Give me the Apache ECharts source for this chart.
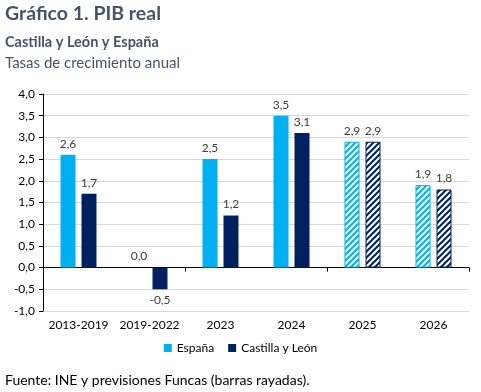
<!DOCTYPE html>
<html><head><meta charset="utf-8">
<script src="https://cdn.jsdelivr.net/npm/echarts@6/dist/echarts.min.js"></script>
<style>html,body{margin:0;padding:0;background:#fff}#c{width:481px;height:392px}</style>
</head><body><div id="c"></div>
<script>
const categories = ['2013-2019','2019-2022','2023','2024','2025','2026'];
const espana = [2.6, 0.0, 2.5, 3.5, 2.9, 1.9];
const castilla = [1.7, -0.5, 1.2, 3.1, 2.9, 1.8];
const forecast = [false, false, false, false, true, true];
const seriesNames = ['España', 'Castilla y León'];
const yTicks = {min: -1, max: 4, interval: 0.5};

const C1 = '#00B0F0', C2 = '#002060';
const FONT = 'Lato, "Noto Sans", sans-serif';

function hatch(color){
  const s = 6, cv = document.createElement('canvas');
  cv.width = s; cv.height = s;
  const g = cv.getContext('2d');
  g.fillStyle = '#fff'; g.fillRect(0,0,s,s);
  g.strokeStyle = color; g.lineWidth = 2;
  g.beginPath();
  g.moveTo(-1, s+1); g.lineTo(s+1, -1);
  g.moveTo(-1, 1); g.lineTo(1, -1);
  g.moveTo(s-1, s+1); g.lineTo(s+1, s-1);
  g.stroke();
  return {image: cv, repeat: 'repeat'};
}
const fmt = v => v.toFixed(1).replace('.', ',');

function mk(vals, color){
  return vals.map((v,i)=>({
    value: v,
    itemStyle: forecast[i] ? {color: hatch(color), borderColor: color, borderWidth: 1} : {color: color},
    label: {position: v < 0 ? 'bottom' : 'top'}
  }));
}

const chart = echarts.init(document.getElementById('c'));
chart.setOption({
  animation: false,
  textStyle: {fontFamily: FONT},
  graphic: [
    {type:'text', left:5, top:4, style:{text:'Gráfico 1. PIB real', font:'bold 19.5px '+FONT, fill:'#44546A'}},
    {type:'text', left:5, top:35, style:{text:'Castilla y León y España', font:'bold 14.5px '+FONT, fill:'#44546A'}},
    {type:'text', left:5, top:56, style:{text:'Tasas de crecimiento anual', font:'15px '+FONT, fill:'#44546A'}},
    {type:'text', left:5, top:373, style:{text:'Fuente: INE y previsiones Funcas (barras rayadas).', font:'14px '+FONT, fill:'#000'}}
  ],
  legend: {
    bottom: 33, left: 'center', itemWidth: 8, itemHeight: 8, itemGap: 14,
    icon: 'rect', textStyle: {fontSize: 12, color: '#000'},
    data: seriesNames
  },
  grid: {left: 43, right: 12, top: 94, bottom: 81},
  xAxis: [
    {type:'category', data: categories, position:'bottom',
     axisLine:{onZero:true, lineStyle:{color:'#000'}},
     axisTick:{show:true, alignWithLabel:false, length:4, lineStyle:{color:'#000'}},
     axisLabel:{show:false}},
    {type:'category', data: categories, position:'bottom',
     axisLine:{show:false}, axisTick:{show:false},
     axisLabel:{fontSize:12, color:'#000', margin:8, interval:0}}
  ],
  yAxis: {
    type:'value', min: yTicks.min, max: yTicks.max, interval: yTicks.interval,
    axisLine:{show:true, lineStyle:{color:'#000'}},
    axisTick:{show:true, length:4, lineStyle:{color:'#000'}},
    axisLabel:{fontSize:12, color:'#000', formatter: v => fmt(v), margin:8},
    splitLine:{lineStyle:{color:'#D9D9D9'}}
  },
  series: [
    {name: seriesNames[0], type:'bar', xAxisIndex:0, data: mk(espana, C1), itemStyle:{color:C1},
     barWidth: 15, barGap: '40%',
     label:{show:true, fontSize:12, color:'#404040', formatter: p => fmt(p.value)}},
    {name: seriesNames[1], type:'bar', xAxisIndex:0, data: mk(castilla, C2), itemStyle:{color:C2},
     barWidth: 15, barGap: '40%',
     label:{show:true, fontSize:12, color:'#404040', formatter: p => fmt(p.value)}}
  ]
});
</script></body></html>
